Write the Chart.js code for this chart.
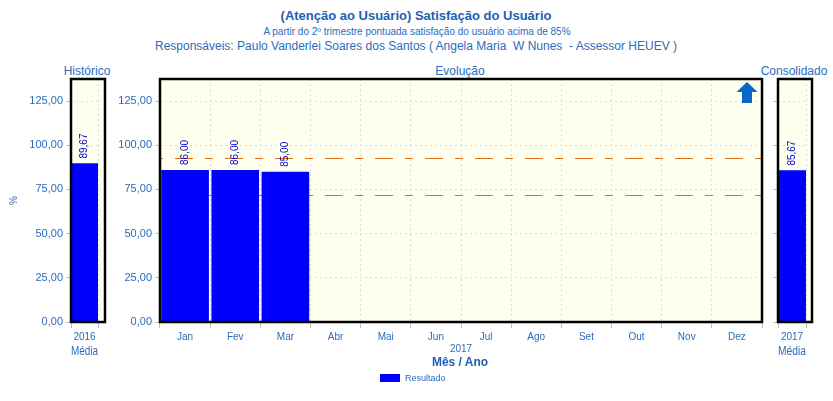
<!DOCTYPE html>
<html>
<head>
<meta charset="utf-8">
<script src="https://cdn.jsdelivr.net/npm/chart.js@4.4.1/dist/chart.umd.min.js"></script>
<style>
  body { margin: 0; background: #fff; font-family: "Liberation Sans", Arial, sans-serif; color: #2a6cbc; }
  #wrap { position: relative; width: 833px; height: 401px; overflow: hidden; }
  .t { position: absolute; white-space: nowrap; transform: translate(-50%, -50%); }
  canvas { position: absolute; top: 60px; }
  .leg { position: absolute; left: 380px; top: 374px; width: 20px; height: 8px; background: #0000ff; }
</style>
</head>
<body>
<div id="wrap">
  <div class="t" style="left:416px;top:15px;font-size:13px;font-weight:bold;color:#1c62b3">(Atenção ao Usuário) Satisfação do Usuário</div>
  <div class="t" style="left:417px;top:31px;font-size:10px">A partir do 2º trimestre pontuada satisfação do usuário acima de 85%</div>
  <div class="t" style="left:416px;top:46px;font-size:12px">Responsáveis: Paulo Vanderlei Soares dos Santos ( Angela Maria&nbsp; W Nunes&nbsp; - Assessor HEUEV )</div>

  <div class="t" style="left:87px;top:71px;font-size:12px">Histórico</div>
  <div class="t" style="left:460px;top:71px;font-size:12px">Evolução</div>
  <div class="t" style="left:794px;top:71px;font-size:12px">Consolidado</div>

  <canvas id="chartHistorico" width="112" height="300" style="left:0px"></canvas>
  <canvas id="chartEvolucao" width="660" height="300" style="left:112px"></canvas>
  <canvas id="chartConsolidado" width="73" height="300" style="left:760px"></canvas>

  <div class="t" style="left:460px;top:362px;font-size:12px;font-weight:bold;color:#1c62b3">Mês / Ano</div>
  <div class="leg"></div>
  <div style="position:absolute;left:405px;top:373px;font-size:9px">Resultado</div>
</div>

<script>
const meses = ["Jan", "Fev", "Mar", "Abr", "Mai", "Jun", "Jul", "Ago", "Set", "Out", "Nov", "Dez"];
const resultado = [86.0, 86.0, 85.0, null, null, null, null, null, null, null, null, null];

const historicoLabels = ["2016"];
const historicoValores = [89.67];

const consolidadoLabels = ["2017"];
const consolidadoValores = [85.67];

// linhas de limite (tracejadas)
const limiteSuperior = 93;
const limiteInferior = 72;

const eixoMax = 137.5;
const eixoPasso = 25;

const azulTexto = "#2a6cbc";
const azulBarra = "#0000ff";

function fmt(v) {
  return Number(v).toFixed(2).replace(".", ",");
}

// fundo creme + moldura preta
const painel = {
  id: "painel",
  beforeDraw(chart, args, opts) {
    const a = chart.chartArea;
    const ctx = chart.ctx;
    ctx.save();
    ctx.fillStyle = "#fffff0";
    ctx.fillRect(a.left, a.top, a.right - a.left + (opts.extra || 0), a.bottom - a.top);
    ctx.restore();
  },
  afterDraw(chart, args, opts) {
    const a = chart.chartArea;
    const ctx = chart.ctx;
    ctx.save();
    ctx.strokeStyle = "#000";
    ctx.lineWidth = 2.5;
    ctx.strokeRect(a.left, a.top, a.right - a.left + (opts.extra || 0), a.bottom - a.top);
    ctx.restore();
  }
};

// valores rotacionados acima das barras
const rotulos = {
  id: "rotulos",
  afterDatasetsDraw(chart) {
    const ctx = chart.ctx;
    ctx.save();
    ctx.fillStyle = "#0000cc";
    ctx.font = "10px 'Liberation Sans', Arial, sans-serif";
    ctx.textAlign = "left";
    ctx.textBaseline = "middle";
    chart.data.datasets.forEach((ds, i) => {
      chart.getDatasetMeta(i).data.forEach((bar, j) => {
        const v = ds.data[j];
        if (v === null || v === undefined) return;
        ctx.save();
        ctx.translate(bar.x, bar.y - 5);
        ctx.rotate(-Math.PI / 2);
        ctx.fillText(fmt(v), 0, 0);
        ctx.restore();
      });
    });
    ctx.restore();
  }
};

// linhas tracejadas de limite
const limites = {
  id: "limites",
  beforeDatasetsDraw(chart) {
    const a = chart.chartArea;
    const y = chart.scales.y;
    const ctx = chart.ctx;
    ctx.save();
    ctx.strokeStyle = "#e0701a";
    ctx.lineWidth = 1;
    ctx.setLineDash([8, 12, 18, 12]);
    ctx.lineDashOffset = 5;
    [limiteSuperior, limiteInferior].forEach(v => {
      const py = Math.round(y.getPixelForValue(v)) + 0.5;
      ctx.beginPath();
      ctx.moveTo(a.left, py);
      ctx.lineTo(a.right, py);
      ctx.stroke();
    });
    ctx.restore();
  }
};

// seta azul (quanto maior melhor)
const seta = {
  id: "seta",
  afterDraw(chart) {
    const a = chart.chartArea;
    const ctx = chart.ctx;
    const cx = a.right - 15;
    const t = a.top + 3;
    ctx.save();
    ctx.fillStyle = "#0a66c8";
    ctx.beginPath();
    ctx.moveTo(cx, t);
    ctx.lineTo(cx + 10.5, t + 10);
    ctx.lineTo(cx + 5, t + 10);
    ctx.lineTo(cx + 5, t + 21);
    ctx.lineTo(cx - 5, t + 21);
    ctx.lineTo(cx - 5, t + 10);
    ctx.lineTo(cx - 10.5, t + 10);
    ctx.closePath();
    ctx.fill();
    ctx.restore();
  }
};

function opcoes(cfg) {
  return {
    responsive: false,
    animation: false,
    devicePixelRatio: 1,
    layout: { padding: { top: 19, right: cfg.padRight, left: 0, bottom: 0 } },
    plugins: {
      legend: { display: false },
      tooltip: { enabled: false },
      painel: { extra: cfg.extra }
    },
    scales: {
      x: {
        afterFit: s => { s.height = 38; },
        grid: { offset: true, color: "#dcdcdc", tickLength: 6, tickColor: "#bdbdbd", tickBorderDash: [] },
        border: { display: false, dash: [2, 3] },
        ticks: { color: azulTexto, font: { size: 10 }, padding: 3, maxRotation: 0 },
        title: cfg.xTitle
      },
      y: {
        min: 0,
        max: eixoMax,
        afterFit: s => { s.width = cfg.yWidth; },
        grid: { color: "#dcdcdc", tickLength: 5, tickColor: "#bdbdbd", tickBorderDash: [] },
        border: { display: false, dash: [2, 3] },
        ticks: {
          display: cfg.yLabels,
          stepSize: eixoPasso,
          includeBounds: false,
          color: azulTexto,
          font: { size: 11 },
          padding: 3,
          callback: v => fmt(v)
        },
        title: cfg.yTitle || { display: false }
      }
    }
  };
}

new Chart(document.getElementById("chartHistorico"), {
  type: "bar",
  data: {
    labels: historicoLabels,
    datasets: [{ data: historicoValores, backgroundColor: azulBarra, barPercentage: 1, categoryPercentage: 1 }]
  },
  options: opcoes({
    padRight: 14, extra: 7, yWidth: 71, yLabels: true,
    yTitle: { display: true, text: "%", color: azulTexto, font: { size: 10 }, padding: { top: 8, bottom: 0 } },
    xTitle: { display: true, text: "Média", color: azulTexto, font: { size: 12 }, padding: { top: 0, bottom: 1 } }
  }),
  plugins: [painel, rotulos]
});

new Chart(document.getElementById("chartEvolucao"), {
  type: "bar",
  data: {
    labels: meses,
    datasets: [{ label: "Resultado", data: resultado, backgroundColor: azulBarra, barPercentage: 0.95, categoryPercentage: 1 }]
  },
  options: opcoes({
    padRight: 10, extra: 0, yWidth: 48, yLabels: true,
    xTitle: { display: true, text: "2017", color: azulTexto, font: { size: 10 }, padding: { top: 0, bottom: 5 } }
  }),
  plugins: [painel, limites, rotulos, seta]
});

new Chart(document.getElementById("chartConsolidado"), {
  type: "bar",
  data: {
    labels: consolidadoLabels,
    datasets: [{ data: consolidadoValores, backgroundColor: azulBarra, barPercentage: 1, categoryPercentage: 1 }]
  },
  options: opcoes({
    padRight: 27, extra: 6, yWidth: 18, yLabels: false,
    xTitle: { display: true, text: "Média", color: azulTexto, font: { size: 12 }, padding: { top: 0, bottom: 1 } }
  }),
  plugins: [painel, rotulos]
});
</script>
</body>
</html>
